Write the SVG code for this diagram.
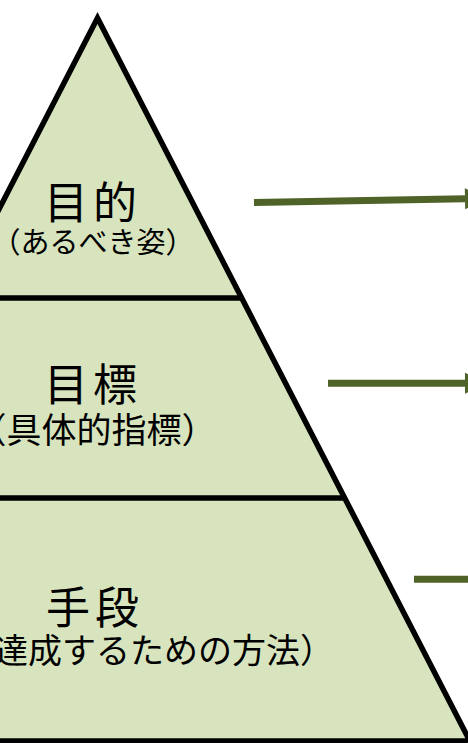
<svg xmlns="http://www.w3.org/2000/svg" width="468" height="743" viewBox="0 0 468 743">
<style>
.tier{fill:#D7E4BD;stroke:none}
.title{font-family:"Noto Sans CJK JP","Noto Sans",sans-serif;font-size:44px;letter-spacing:5px;fill:#000}
.sub{font-family:"Noto Sans CJK JP","Noto Sans",sans-serif;fill:#000}
.outline{fill:none;stroke:#000;stroke-width:5.5;stroke-linejoin:miter}
.arrow{stroke:#4F6228;stroke-width:7;fill:none}
</style>
<defs>
<marker id="head" markerUnits="strokeWidth" markerWidth="4" markerHeight="4" refX="0" refY="2" orient="auto" overflow="visible">
<path d="M0,0.5 L0,3.5 L3,2 Z" fill="#4F6228"/>
</marker>
</defs>
<rect width="468" height="743" fill="#FFFFFF"/>
<g id="tier-purpose">
<polygon class="tier" points="97.5,18 241.7,298 -46.7,298"/>
<text class="title" x="44" y="219">目的</text>
<text class="sub" x="-8.5" y="253" font-size="29">（あるべき姿）</text>
</g>
<g id="tier-goal">
<polygon class="tier" points="-46.7,298 241.7,298 344.7,498 -149.7,498"/>
<text class="title" x="44" y="401">目標</text>
<text class="sub" x="-28.5" y="442.5" font-size="35">（具体的指標）</text>
</g>
<g id="tier-means">
<polygon class="tier" points="-149.7,498 344.7,498 469.8,741 -274.8,741"/>
<text class="title" x="46" y="624">手段</text>
<text class="sub" x="-40" y="663" font-size="34">（達成するための方法）</text>
</g>
<g id="pyramid-outline">
<polygon class="outline" points="97.5,18 469.8,741 -274.8,741"/>
<line class="outline" x1="-60" y1="298" x2="241.7" y2="298"/>
<line class="outline" x1="-160" y1="498" x2="344.7" y2="498"/>
</g>
<g id="connectors">
<line class="arrow" x1="254" y1="202.5" x2="465" y2="198.7" marker-end="url(#head)"/>
<line class="arrow" x1="328" y1="383.3" x2="465" y2="383.3" marker-end="url(#head)"/>
<line class="arrow" x1="414" y1="579.3" x2="468" y2="579.3"/>
</g>
</svg>
